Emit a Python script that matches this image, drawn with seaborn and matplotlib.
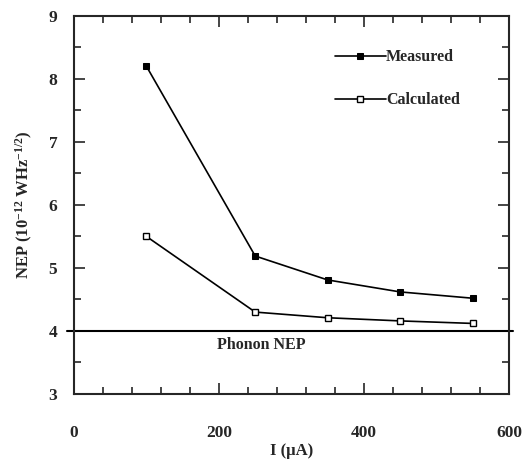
import numpy as np
import pandas as pd
import matplotlib
matplotlib.use("Agg")
import matplotlib.pyplot as plt
from matplotlib.ticker import MultipleLocator
import seaborn as sns

current_ua = [100, 250, 350, 450, 550]
measured = [8.2, 5.19, 4.81, 4.62, 4.52]
calculated = [5.5, 4.3, 4.21, 4.16, 4.12]
phonon_nep = 4.0

sns.set_style("ticks")
plt.rcParams['font.family'] = ['Liberation Serif', 'DejaVu Serif']
plt.rcParams['font.weight'] = 'bold'
plt.rcParams['mathtext.default'] = 'regular'

df_m = pd.DataFrame({'I': current_ua, 'NEP': measured})
df_c = pd.DataFrame({'I': current_ua, 'NEP': calculated})

fig = plt.figure(figsize=(5.23, 4.65), dpi=100)
ax = fig.add_axes([0.1415, 0.1527, 0.8315, 0.813])

sns.lineplot(data=df_m, x='I', y='NEP', ax=ax, color='black', lw=1.2,
             marker='s', markersize=5, markerfacecolor='black',
             markeredgecolor='black', label='Measured')
sns.lineplot(data=df_c, x='I', y='NEP', ax=ax, color='black', lw=1.2,
             marker='s', markersize=5, markerfacecolor='white',
             markeredgecolor='black', markeredgewidth=1, label='Calculated')

ax.axhline(phonon_nep, xmin=-0.015, xmax=1.01, color='black', lw=1.5, clip_on=False)
ax.text(259, 3.77, 'Phonon NEP', ha='center', va='center', fontsize=11.5, fontweight='bold')

ax.set_xlim(0, 600)
ax.set_ylim(3, 9)
ax.xaxis.set_major_locator(MultipleLocator(200))
ax.xaxis.set_minor_locator(MultipleLocator(40))
ax.yaxis.set_major_locator(MultipleLocator(1))
ax.yaxis.set_minor_locator(MultipleLocator(0.5))
ax.tick_params(which='both', direction='in', top=True, right=True, width=1.2)
ax.tick_params(which='major', length=8, labelsize=12.5)
ax.tick_params(axis='x', which='major', pad=22)
ax.tick_params(axis='y', which='major', pad=12)
ax.tick_params(which='minor', length=5)
for s in ax.spines.values():
    s.set_linewidth(1.5)

ax.set_xlabel('I (μA)', fontsize=12, fontweight='bold', labelpad=2)
ax.set_ylabel('NEP (10$^{-12}$ WHz$^{-1/2}$)', fontsize=12, fontweight='bold', labelpad=10)

ax.legend(loc='upper right', bbox_to_anchor=(0.92, 0.95), frameon=False,
          handlelength=3.2, handletextpad=0.0, labelspacing=1.7,
          prop={'size': 11.5, 'weight': 'bold'})

fig.savefig('out.png', dpi=100)
